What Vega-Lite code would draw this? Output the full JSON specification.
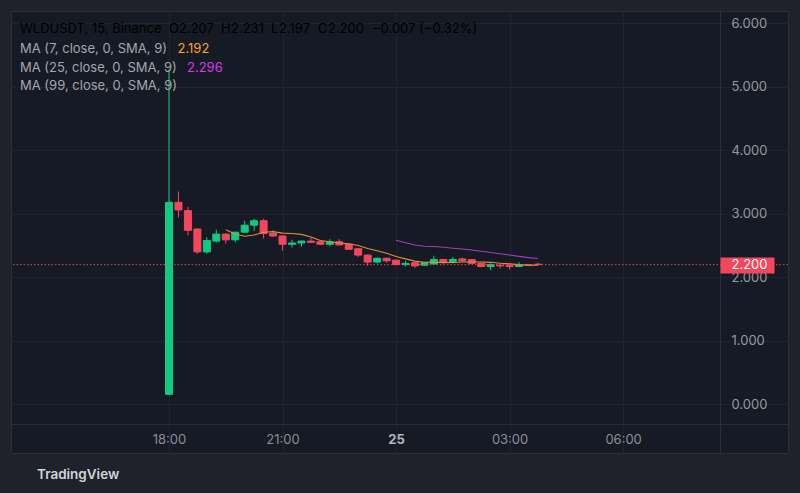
{
  "$schema": "https://vega.github.io/schema/vega-lite/v6.json",
  "width": 777,
  "height": 442,
  "autosize": {"type": "none"},
  "padding": {"left": 11, "top": 11, "right": 12, "bottom": 40},
  "background": "#1f222b",
  "config": {
    "font": "Inter",
    "view": {"fill": "#161a25", "stroke": "#2a2e39", "strokeWidth": 1},
    "axis": {"labelFont": "Inter", "labelFontSize": 13, "labelColor": "#9598a1", "gridColor": "#20242f", "domainColor": "#2a2e39"}
  },
  "title": {
    "text": "TradingView",
    "orient": "bottom",
    "anchor": "start",
    "frame": "group",
    "offset": 15,
    "dx": 26,
    "baseline": "top",
    "font": "Inter",
    "fontSize": 13.5,
    "fontWeight": 600,
    "color": "#d1d4dc"
  },
  "datasets": {
    "candles": [
      {"t": "2023-07-24T18:00:00Z", "o": 0.16, "h": 5.27, "l": 0.15, "c": 3.18},
      {"t": "2023-07-24T18:15:00Z", "o": 3.18, "h": 3.35, "l": 2.94, "c": 3.06},
      {"t": "2023-07-24T18:30:00Z", "o": 3.05, "h": 3.11, "l": 2.66, "c": 2.74},
      {"t": "2023-07-24T18:45:00Z", "o": 2.76, "h": 2.77, "l": 2.37, "c": 2.40},
      {"t": "2023-07-24T19:00:00Z", "o": 2.40, "h": 2.63, "l": 2.37, "c": 2.58},
      {"t": "2023-07-24T19:15:00Z", "o": 2.57, "h": 2.75, "l": 2.55, "c": 2.68},
      {"t": "2023-07-24T19:30:00Z", "o": 2.68, "h": 2.69, "l": 2.53, "c": 2.59},
      {"t": "2023-07-24T19:45:00Z", "o": 2.59, "h": 2.72, "l": 2.55, "c": 2.71},
      {"t": "2023-07-24T20:00:00Z", "o": 2.71, "h": 2.89, "l": 2.70, "c": 2.82},
      {"t": "2023-07-24T20:15:00Z", "o": 2.82, "h": 2.92, "l": 2.73, "c": 2.89},
      {"t": "2023-07-24T20:30:00Z", "o": 2.89, "h": 2.92, "l": 2.61, "c": 2.69},
      {"t": "2023-07-24T20:45:00Z", "o": 2.69, "h": 2.74, "l": 2.64, "c": 2.65},
      {"t": "2023-07-24T21:00:00Z", "o": 2.65, "h": 2.66, "l": 2.42, "c": 2.52},
      {"t": "2023-07-24T21:15:00Z", "o": 2.52, "h": 2.59, "l": 2.47, "c": 2.54},
      {"t": "2023-07-24T21:30:00Z", "o": 2.54, "h": 2.58, "l": 2.48, "c": 2.57},
      {"t": "2023-07-24T21:45:00Z", "o": 2.57, "h": 2.62, "l": 2.54, "c": 2.55},
      {"t": "2023-07-24T22:00:00Z", "o": 2.56, "h": 2.57, "l": 2.51, "c": 2.52},
      {"t": "2023-07-24T22:15:00Z", "o": 2.52, "h": 2.60, "l": 2.49, "c": 2.56},
      {"t": "2023-07-24T22:30:00Z", "o": 2.56, "h": 2.60, "l": 2.50, "c": 2.51},
      {"t": "2023-07-24T22:45:00Z", "o": 2.52, "h": 2.53, "l": 2.43, "c": 2.44},
      {"t": "2023-07-24T23:00:00Z", "o": 2.45, "h": 2.46, "l": 2.32, "c": 2.35},
      {"t": "2023-07-24T23:15:00Z", "o": 2.35, "h": 2.36, "l": 2.18, "c": 2.24},
      {"t": "2023-07-24T23:30:00Z", "o": 2.24, "h": 2.31, "l": 2.22, "c": 2.30},
      {"t": "2023-07-24T23:45:00Z", "o": 2.30, "h": 2.31, "l": 2.23, "c": 2.26},
      {"t": "2023-07-25T00:00:00Z", "o": 2.27, "h": 2.28, "l": 2.19, "c": 2.20},
      {"t": "2023-07-25T00:15:00Z", "o": 2.20, "h": 2.26, "l": 2.17, "c": 2.22},
      {"t": "2023-07-25T00:30:00Z", "o": 2.23, "h": 2.24, "l": 2.15, "c": 2.18},
      {"t": "2023-07-25T00:45:00Z", "o": 2.19, "h": 2.24, "l": 2.18, "c": 2.23},
      {"t": "2023-07-25T01:00:00Z", "o": 2.21, "h": 2.34, "l": 2.20, "c": 2.28},
      {"t": "2023-07-25T01:15:00Z", "o": 2.28, "h": 2.29, "l": 2.22, "c": 2.24},
      {"t": "2023-07-25T01:30:00Z", "o": 2.25, "h": 2.32, "l": 2.22, "c": 2.28},
      {"t": "2023-07-25T01:45:00Z", "o": 2.29, "h": 2.31, "l": 2.25, "c": 2.26},
      {"t": "2023-07-25T02:00:00Z", "o": 2.28, "h": 2.28, "l": 2.21, "c": 2.22},
      {"t": "2023-07-25T02:15:00Z", "o": 2.22, "h": 2.23, "l": 2.16, "c": 2.17},
      {"t": "2023-07-25T02:30:00Z", "o": 2.17, "h": 2.22, "l": 2.11, "c": 2.20},
      {"t": "2023-07-25T02:45:00Z", "o": 2.19, "h": 2.20, "l": 2.14, "c": 2.18},
      {"t": "2023-07-25T03:00:00Z", "o": 2.19, "h": 2.20, "l": 2.12, "c": 2.17},
      {"t": "2023-07-25T03:15:00Z", "o": 2.17, "h": 2.24, "l": 2.16, "c": 2.20},
      {"t": "2023-07-25T03:30:00Z", "o": 2.20, "h": 2.21, "l": 2.18, "c": 2.19},
      {"t": "2023-07-25T03:45:00Z", "o": 2.207, "h": 2.231, "l": 2.197, "c": 2.200}
    ],
    "ma": [
      {"t": "2023-07-24T19:30:00Z", "series": "MA (7, close, 0, SMA, 9)", "v": 2.747},
      {"t": "2023-07-24T19:45:00Z", "series": "MA (7, close, 0, SMA, 9)", "v": 2.680},
      {"t": "2023-07-24T20:00:00Z", "series": "MA (7, close, 0, SMA, 9)", "v": 2.646},
      {"t": "2023-07-24T20:15:00Z", "series": "MA (7, close, 0, SMA, 9)", "v": 2.667},
      {"t": "2023-07-24T20:30:00Z", "series": "MA (7, close, 0, SMA, 9)", "v": 2.709},
      {"t": "2023-07-24T20:45:00Z", "series": "MA (7, close, 0, SMA, 9)", "v": 2.719},
      {"t": "2023-07-24T21:00:00Z", "series": "MA (7, close, 0, SMA, 9)", "v": 2.696},
      {"t": "2023-07-24T21:15:00Z", "series": "MA (7, close, 0, SMA, 9)", "v": 2.689},
      {"t": "2023-07-24T21:30:00Z", "series": "MA (7, close, 0, SMA, 9)", "v": 2.675},
      {"t": "2023-07-24T21:45:00Z", "series": "MA (7, close, 0, SMA, 9)", "v": 2.635},
      {"t": "2023-07-24T22:00:00Z", "series": "MA (7, close, 0, SMA, 9)", "v": 2.580},
      {"t": "2023-07-24T22:15:00Z", "series": "MA (7, close, 0, SMA, 9)", "v": 2.559},
      {"t": "2023-07-24T22:30:00Z", "series": "MA (7, close, 0, SMA, 9)", "v": 2.539},
      {"t": "2023-07-24T22:45:00Z", "series": "MA (7, close, 0, SMA, 9)", "v": 2.527},
      {"t": "2023-07-24T23:00:00Z", "series": "MA (7, close, 0, SMA, 9)", "v": 2.500},
      {"t": "2023-07-24T23:15:00Z", "series": "MA (7, close, 0, SMA, 9)", "v": 2.453},
      {"t": "2023-07-24T23:30:00Z", "series": "MA (7, close, 0, SMA, 9)", "v": 2.417},
      {"t": "2023-07-24T23:45:00Z", "series": "MA (7, close, 0, SMA, 9)", "v": 2.380},
      {"t": "2023-07-25T00:00:00Z", "series": "MA (7, close, 0, SMA, 9)", "v": 2.329},
      {"t": "2023-07-25T00:15:00Z", "series": "MA (7, close, 0, SMA, 9)", "v": 2.290},
      {"t": "2023-07-25T00:30:00Z", "series": "MA (7, close, 0, SMA, 9)", "v": 2.255},
      {"t": "2023-07-25T00:45:00Z", "series": "MA (7, close, 0, SMA, 9)", "v": 2.238},
      {"t": "2023-07-25T01:00:00Z", "series": "MA (7, close, 0, SMA, 9)", "v": 2.239},
      {"t": "2023-07-25T01:15:00Z", "series": "MA (7, close, 0, SMA, 9)", "v": 2.232},
      {"t": "2023-07-25T01:30:00Z", "series": "MA (7, close, 0, SMA, 9)", "v": 2.233},
      {"t": "2023-07-25T01:45:00Z", "series": "MA (7, close, 0, SMA, 9)", "v": 2.241},
      {"t": "2023-07-25T02:00:00Z", "series": "MA (7, close, 0, SMA, 9)", "v": 2.241},
      {"t": "2023-07-25T02:15:00Z", "series": "MA (7, close, 0, SMA, 9)", "v": 2.240},
      {"t": "2023-07-25T02:30:00Z", "series": "MA (7, close, 0, SMA, 9)", "v": 2.236},
      {"t": "2023-07-25T02:45:00Z", "series": "MA (7, close, 0, SMA, 9)", "v": 2.221},
      {"t": "2023-07-25T03:00:00Z", "series": "MA (7, close, 0, SMA, 9)", "v": 2.211},
      {"t": "2023-07-25T03:15:00Z", "series": "MA (7, close, 0, SMA, 9)", "v": 2.200},
      {"t": "2023-07-25T03:30:00Z", "series": "MA (7, close, 0, SMA, 9)", "v": 2.190},
      {"t": "2023-07-25T03:45:00Z", "series": "MA (7, close, 0, SMA, 9)", "v": 2.192},
      {"t": "2023-07-25T00:00:00Z", "series": "MA (25, close, 0, SMA, 9)", "v": 2.582},
      {"t": "2023-07-25T00:15:00Z", "series": "MA (25, close, 0, SMA, 9)", "v": 2.544},
      {"t": "2023-07-25T00:30:00Z", "series": "MA (25, close, 0, SMA, 9)", "v": 2.508},
      {"t": "2023-07-25T00:45:00Z", "series": "MA (25, close, 0, SMA, 9)", "v": 2.490},
      {"t": "2023-07-25T01:00:00Z", "series": "MA (25, close, 0, SMA, 9)", "v": 2.485},
      {"t": "2023-07-25T01:15:00Z", "series": "MA (25, close, 0, SMA, 9)", "v": 2.472},
      {"t": "2023-07-25T01:30:00Z", "series": "MA (25, close, 0, SMA, 9)", "v": 2.458},
      {"t": "2023-07-25T01:45:00Z", "series": "MA (25, close, 0, SMA, 9)", "v": 2.445},
      {"t": "2023-07-25T02:00:00Z", "series": "MA (25, close, 0, SMA, 9)", "v": 2.430},
      {"t": "2023-07-25T02:15:00Z", "series": "MA (25, close, 0, SMA, 9)", "v": 2.410},
      {"t": "2023-07-25T02:30:00Z", "series": "MA (25, close, 0, SMA, 9)", "v": 2.390},
      {"t": "2023-07-25T02:45:00Z", "series": "MA (25, close, 0, SMA, 9)", "v": 2.370},
      {"t": "2023-07-25T03:00:00Z", "series": "MA (25, close, 0, SMA, 9)", "v": 2.350},
      {"t": "2023-07-25T03:15:00Z", "series": "MA (25, close, 0, SMA, 9)", "v": 2.330},
      {"t": "2023-07-25T03:30:00Z", "series": "MA (25, close, 0, SMA, 9)", "v": 2.310},
      {"t": "2023-07-25T03:45:00Z", "series": "MA (25, close, 0, SMA, 9)", "v": 2.296}
    ],
    "last": [
      {"price": 2.2, "label": "WLDUSDT, 15, Binance"}
    ]
  },
  "resolve": {"axis": {"y": "independent"}},
  "layer": [
    {
      "data": {"name": "candles"},
      "mark": {"type": "rule", "strokeWidth": 1},
      "encoding": {
        "x": {
          "field": "t", "type": "temporal",
          "scale": {"type": "utc", "domain": [
            {"year": 2023, "month": 7, "date": 24, "hours": 13, "minutes": 57, "seconds": 23, "utc": true},
            {"year": 2023, "month": 7, "date": 25, "hours": 10, "minutes": 13, "seconds": 34, "utc": true}
          ]},
          "axis": {
            "orient": "bottom", "offset": -29, "title": null,
            "values": [
              {"year": 2023, "month": 7, "date": 24, "hours": 18, "utc": true},
              {"year": 2023, "month": 7, "date": 24, "hours": 21, "utc": true},
              {"year": 2023, "month": 7, "date": 25, "hours": 0, "utc": true},
              {"year": 2023, "month": 7, "date": 25, "hours": 3, "utc": true},
              {"year": 2023, "month": 7, "date": 25, "hours": 6, "utc": true}
            ],
            "labelExpr": "utchours(datum.value) === 0 ? utcFormat(datum.value, '%-d') : utcFormat(datum.value, '%H:%M')",
            "labelFontWeight": {"condition": {"test": "utchours(datum.value) === 0", "value": "bold"}, "value": "normal"},
            "labelColor": {"condition": {"test": "utchours(datum.value) === 0", "value": "#b2b5be"}, "value": "#8b8e97"},
            "ticks": false, "labelPadding": 9, "grid": true, "domain": true, "labelFlush": false
          }
        },
        "y": {
          "field": "l", "type": "quantitative",
          "scale": {"domain": [-0.763, 6.189], "nice": false, "zero": false},
          "axis": {
            "orient": "right", "offset": -68, "title": null,
            "values": [0, 1, 2, 3, 4, 5, 6], "format": ".3f",
            "ticks": false, "labelPadding": 11, "grid": true, "domain": true, "labelAlign": "left"
          }
        },
        "y2": {"field": "h"},
        "color": {"condition": {"test": "datum.c >= datum.o", "value": "#0ecb81"}, "value": "#f6465d"}
      }
    },
    {
      "data": {"name": "candles"},
      "mark": {"type": "bar", "width": 7, "strokeWidth": 1},
      "encoding": {
        "x": {"field": "t", "type": "temporal"},
        "y": {"field": "o", "type": "quantitative", "axis": null},
        "y2": {"field": "c"},
        "color": {"condition": {"test": "datum.c >= datum.o", "value": "#0ecb81"}, "value": "#f6465d"},
        "stroke": {"condition": {"test": "datum.c >= datum.o", "value": "#0ecb81"}, "value": "#f6465d"}
      }
    },
    {
      "data": {"name": "ma"},
      "mark": {"type": "line", "strokeWidth": 1.1},
      "encoding": {
        "x": {"field": "t", "type": "temporal"},
        "y": {"field": "v", "type": "quantitative", "axis": null},
        "color": {
          "field": "series", "type": "nominal",
          "scale": {
            "domain": ["MA (7, close, 0, SMA, 9)", "2.192", "MA (25, close, 0, SMA, 9)", "2.296", "MA (99, close, 0, SMA, 9)"],
            "range": ["#d9923a", "#f5a623", "#a83abd", "#d63ae8", "#2962ff"]
          },
          "legend": {
            "orient": "none", "legendX": 9, "legendY": 31.5, "direction": "horizontal", "columns": 2,
            "columnPadding": -1, "rowPadding": 4.5, "padding": 0, "title": null,
            "symbolSize": 0.01, "symbolStrokeWidth": 0, "symbolOpacity": 0, "labelOffset": -13,
            "labelFont": "Inter", "labelFontSize": 13, "labelLimit": 400,
            "encode": {"labels": {"update": {
              "fill": {"signal": "datum.value === '2.192' ? '#f5a623' : datum.value === '2.296' ? '#d63ae8' : '#a3a6ae'"},
              "dx": {"signal": "datum.value === '2.192' ? -9.5 : 0"}
            }}}
          }
        }
      }
    },
    {
      "data": {"name": "last"},
      "mark": {"type": "rule", "color": "#f6465d", "strokeWidth": 1, "opacity": 0.9},
      "encoding": {
        "y": {
          "field": "price", "type": "quantitative",
          "axis": {
            "orient": "right", "offset": -68, "title": null, "values": [2.2], "format": ".3f",
            "grid": false, "domain": false, "ticks": true, "tickSize": 54, "tickWidth": 16,
            "tickColor": "#f6465d", "tickCap": "butt", "labelColor": "#ffffff", "labelPadding": -43,
            "labelAlign": "left", "labelFontSize": 13, "zindex": 1
          }
        },
        "strokeDash": {
          "field": "label", "type": "nominal",
          "scale": {
            "domain": ["WLDUSDT, 15, Binance", "_a", "O", "2.207", "_b", "H", "2.231", "_c", "L", "2.197", "_d", "C", "2.200", "_e", "−0.007 (−0.32%)"],
            "range": [[1.5, 2]]
          },
          "legend": {
            "orient": "none", "legendX": 9, "legendY": 11.5, "direction": "horizontal", "columns": 15,
            "columnPadding": 0, "rowPadding": 0, "padding": 0, "title": null,
            "symbolSize": 0.01, "symbolStrokeWidth": 0, "symbolOpacity": 0, "labelOffset": -13,
            "labelFont": "Inter", "labelFontSize": 13, "labelLimit": 400,
            "labelExpr": "indexof(datum.value, '_') === 0 ? '\u2002' : datum.label",
            "encode": {
              "labels": {"update": {
                "fill": {"signal": "indexof(['2.207', '2.231', '2.197', '2.200'], datum.value) >= 0 || indexof(datum.value, '%') >= 0 ? '#f23645' : '#a3a6ae'"}
              }}
            }
          }
        }
      }
    }
  ]
}
